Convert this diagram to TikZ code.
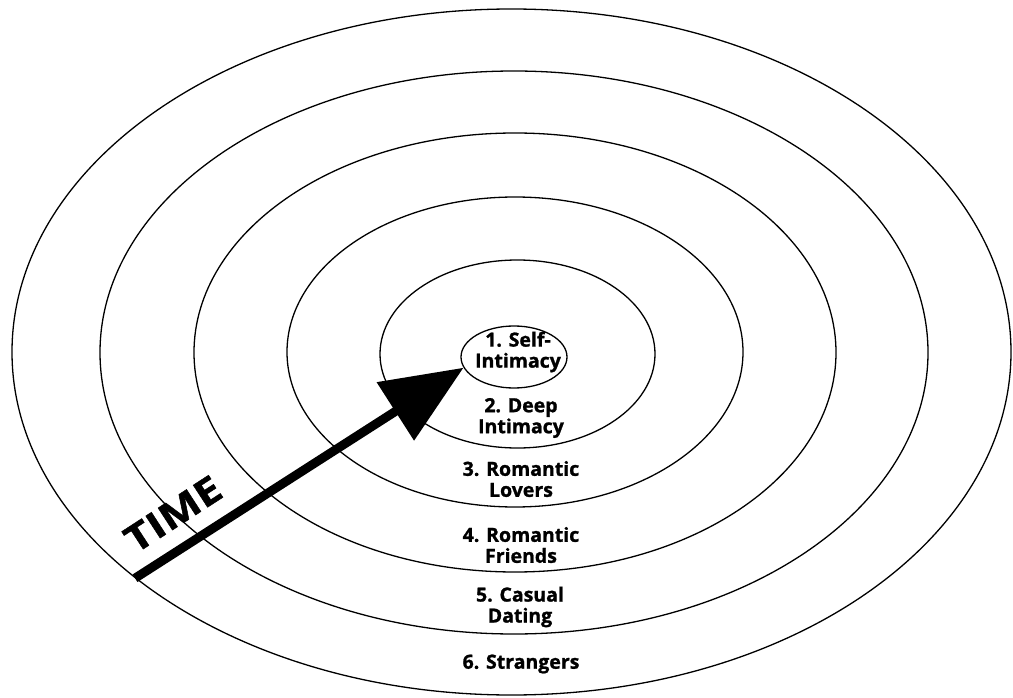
\documentclass[tikz,border=0pt]{standalone}
\usepackage{fontspec}
\setmainfont{Open Sans}[BoldFeatures={FakeBold=1.2}]
\usetikzlibrary{shapes.geometric,arrows.meta}

\begin{document}
\begin{tikzpicture}[x=1pt, y=-1pt,
    ring/.style={draw, ellipse, line width=1.3pt, inner sep=0pt},
    stage/.style={align=center, inner sep=0pt, font=\bfseries\fontsize{19.5}{21}\selectfont},
    timearrow/.style={line width=9pt, -{Triangle[length=81pt, width=67pt]}}]

    \useasboundingbox (0,0) rectangle (1013,698);

    \node [ring, minimum width=999pt, minimum height=686pt] (strangers) at (511.5,352) {};
    \node [ring, minimum width=828pt, minimum height=563pt] (dating) at (514,352.5) {};
    \node [ring, minimum width=642pt, minimum height=439pt] (friends) at (515,352.5) {};
    \node [ring, minimum width=456pt, minimum height=310pt] (lovers) at (515,352) {};
    \node [ring, minimum width=275pt, minimum height=188pt] (deep) at (517.5,354) {};
    \node [ring, minimum width=106pt, minimum height=62pt] (self) at (514,357) {};

    \node [stage] (selflbl) at (518,352) {1. Self-\\Intimacy};
    \node [stage] (deeplbl) at (521,418) {2. Deep\\Intimacy};
    \node [stage] (loverslbl) at (521,479) {3. Romantic\\Lovers};
    \node [stage] (friendslbl) at (521,545) {4. Romantic\\Friends};
    \node [stage] (datinglbl) at (520,607) {5. Casual\\Dating};
    \node [stage] (strangerslbl) at (521,664) {6. Strangers};

    \draw [timearrow] (strangers.211) -- (self.192);
    \node [rotate=33, xscale=1.2, inner sep=0pt, font=\bfseries\fontsize{37}{37}\selectfont] (time) at (173,514) {TIME};
\end{tikzpicture}
\end{document}
